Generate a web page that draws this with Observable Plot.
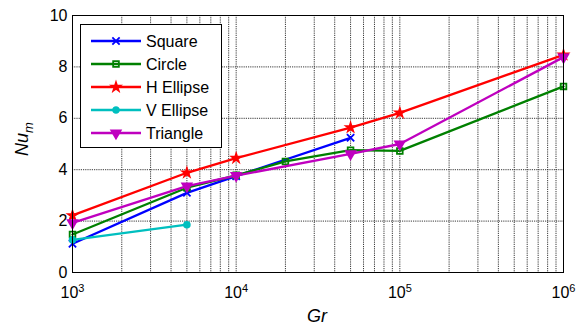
<!DOCTYPE html>
<html>
<head>
<meta charset="utf-8">
<script src="https://cdn.jsdelivr.net/npm/d3@7"></script>
<script src="https://cdn.jsdelivr.net/npm/@observablehq/plot@0.6"></script>
<style>
  html, body { margin: 0; padding: 0; background: #fff; }
  #chart { position: relative; width: 577px; height: 325px; }
</style>
</head>
<body>
<div id="chart"></div>
<script>
// ---- data ----
const seriesNames = ["Square", "Circle", "H Ellipse", "V Ellipse", "Triangle"];
const squareGr = [1e3, 5e3, 1e4, 5e4];
const squareNu = [1.12, 3.10, 3.75, 5.24];
const circleGr = [1e3, 5e3, 1e4, 2e4, 5e4, 1e5, 1e6];
const circleNu = [1.48, 3.30, 3.78, 4.32, 4.76, 4.73, 7.24];
const hEllipseGr = [1e3, 5e3, 1e4, 5e4, 1e5, 1e6];
const hEllipseNu = [2.22, 3.88, 4.45, 5.64, 6.21, 8.47];
const vEllipseGr = [1e3, 5e3];
const vEllipseNu = [1.27, 1.86];
const triangleGr = [1e3, 5e3, 1e4, 5e4, 1e5, 1e6];
const triangleNu = [1.93, 3.36, 3.77, 4.62, 5.00, 8.38];
const xTicks = [1e3, 1e4, 1e5, 1e6];
const yTicks = [0, 2, 4, 6, 8, 10];

// ---- styling ----
const colors = ["#0000ff", "#008000", "#ff0000", "#00bfbf", "#bf00bf"];
const symbols = ["times", "square", "star", "circle", "triangle"];
const fills = ["none", "none", "#ff0000", "#00bfbf", "#bf00bf"];
const radii = [3.4, 3.2, 2.7, 2.9, 3.5];
const rotates = [0, 0, 0, 0, 180];

const grs = [squareGr, circleGr, hEllipseGr, vEllipseGr, triangleGr];
const nus = [squareNu, circleNu, hEllipseNu, vEllipseNu, triangleNu];
const rows = seriesNames.map((name, i) => grs[i].map((g, j) => ({name, i, gr: g, nu: nus[i][j]})));

const minorX = [];
for (let e = 3; e < 6; e++) for (let k = 1; k <= 9; k++) minorX.push(k * 10 ** e);
minorX.push(1e6);

const font = "Liberation Sans, Arial, Helvetica, sans-serif";
const gridStyle = {stroke: "#222", strokeWidth: 0.9, strokeDasharray: "1.2,1", strokeOpacity: 1};

const marks = [
  Plot.ruleX(minorX, gridStyle),
  Plot.ruleY(yTicks, gridStyle),
  Plot.axisX({ticks: xTicks, tickSize: 0, tickPadding: 14, tickFormat: d => String(Math.round(Math.log10(d))), fontSize: 16, label: null}),
  Plot.axisY({ticks: yTicks, tickSize: 0, tickPadding: 5, fontSize: 16, label: null}),
];
rows.forEach((r, i) => {
  marks.push(Plot.line(r, {x: "gr", y: "nu", stroke: colors[i], strokeWidth: 2.3}));
  marks.push(Plot.dot(r, {x: "gr", y: "nu", stroke: colors[i], fill: fills[i], symbol: symbols[i], r: radii[i], strokeWidth: 1.8, rotate: rotates[i]}));
});
marks.push(Plot.frame({stroke: "#000", strokeWidth: 1}));

const svg = Plot.plot({
  width: 577,
  height: 325,
  marginLeft: 72,
  marginRight: 14,
  marginTop: 15,
  marginBottom: 53,
  style: {fontFamily: font, fontSize: "16px", color: "#000", background: "#fff"},
  x: {type: "log", domain: [1e3, 1e6]},
  y: {domain: [0, 10]},
  marks
});

document.getElementById("chart").appendChild(svg);
const s = d3.select(svg);

// superscript exponents on x tick labels
s.selectAll('g[aria-label="x-axis tick label"] text').each(function() {
  const t = d3.select(this);
  const e = t.text();
  t.text("");
  t.append("tspan").text("10");
  t.append("tspan").attr("dy", "-0.5em").attr("font-size", "11px").text(e);
});

// axis titles
s.append("text")
  .attr("x", 317).attr("y", 322)
  .attr("text-anchor", "middle")
  .attr("font-family", font).attr("font-size", 18).attr("font-style", "italic")
  .text("Gr");
const yl = s.append("text")
  .attr("transform", "translate(28,139) rotate(-90)")
  .attr("text-anchor", "middle")
  .attr("font-family", font).attr("font-size", 18).attr("font-style", "italic");
yl.append("tspan").text("Nu");
yl.append("tspan").attr("dy", "0.35em").attr("font-size", 13).text("m");

// legend
const symMap = {times: d3.symbolTimes, square: d3.symbolSquare, star: d3.symbolStar, circle: d3.symbolCircle, triangle: d3.symbolTriangle};
const lg = s.append("g").attr("font-family", font).attr("font-size", 16).attr("text-anchor", "start");
lg.append("rect").attr("x", 80.5).attr("y", 24.5).attr("width", 141).attr("height", 123)
  .attr("fill", "#fff").attr("stroke", "#000").attr("stroke-width", 1);
seriesNames.forEach((name, i) => {
  const yy = 41 + i * 23;
  lg.append("line").attr("x1", 91).attr("x2", 141).attr("y1", yy).attr("y2", yy)
    .attr("stroke", colors[i]).attr("stroke-width", 2.3);
  lg.append("path").attr("d", d3.symbol(symMap[symbols[i]], Math.PI * radii[i] * radii[i])())
    .attr("transform", `translate(116,${yy}) rotate(${rotates[i]})`)
    .attr("stroke", colors[i]).attr("fill", fills[i]).attr("stroke-width", 1.8);
  lg.append("text").attr("x", 146).attr("y", yy).attr("dy", "0.36em").attr("text-anchor", "start").text(name);
});
</script>
</body>
</html>
